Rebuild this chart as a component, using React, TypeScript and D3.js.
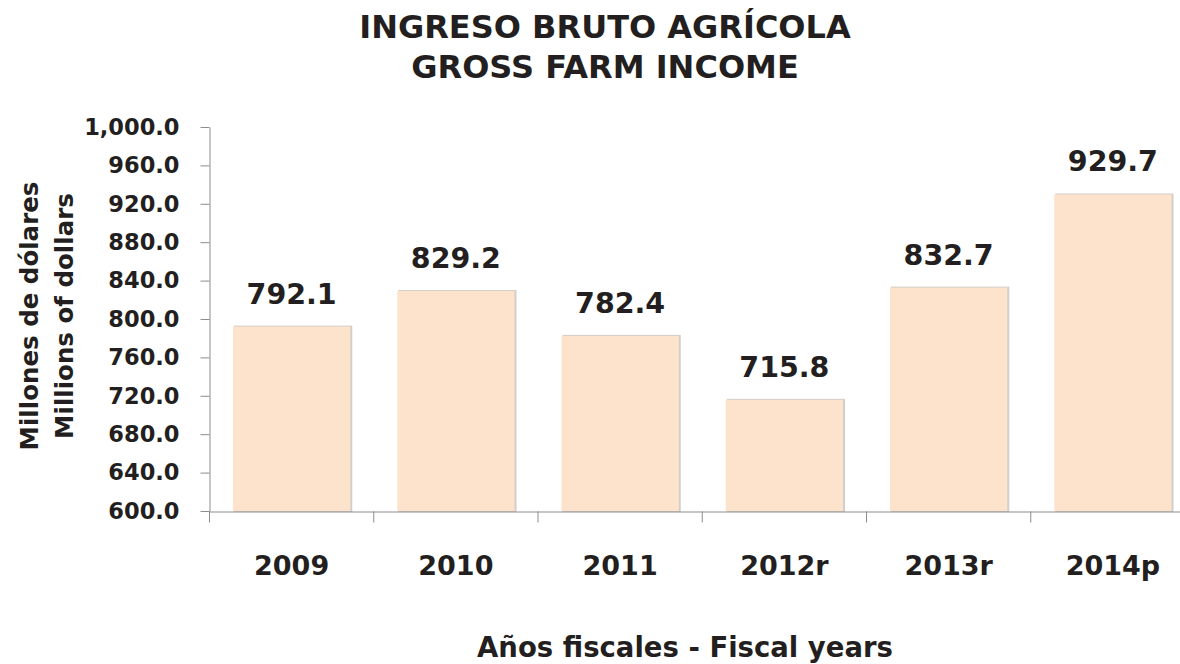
import React, {useEffect, useRef} from 'react';
import * as d3 from 'd3';

const years = ['2009', '2010', '2011', '2012r', '2013r', '2014p'];
const income = [792.1, 829.2, 782.4, 715.8, 832.7, 929.7];
const yTicks = [600, 640, 680, 720, 760, 800, 840, 880, 920, 960, 1000];

const FONT = '"DejaVu Sans", sans-serif';
const INK = '#231f20';

const App = () => {
    const ref = useRef<SVGSVGElement>(null);

    useEffect(() => {
        const svg = d3.select(ref.current);
        svg.selectAll('*').remove();

        const x = d3.scaleBand().domain(years).range([209.5, 1195]).paddingInner(0.286).paddingOuter(0.143);
        const y = d3.scaleLinear().domain([600, 1000]).range([511, 127]);

        // title
        svg.append('text').attr('x', 605).attr('y', 38).attr('text-anchor', 'middle')
            .attr('font-family', FONT).attr('font-weight', 'bold').attr('font-size', 32).attr('fill', INK)
            .text('INGRESO BRUTO AGRÍCOLA');
        svg.append('text').attr('x', 605).attr('y', 78).attr('text-anchor', 'middle')
            .attr('font-family', FONT).attr('font-weight', 'bold').attr('font-size', 32).attr('fill', INK)
            .text('GROSS FARM INCOME');

        // bars with a soft shadow
        const bars = svg.append('g');
        bars.selectAll('rect.shadow').data(income).enter().append('rect')
            .attr('class', 'shadow')
            .attr('x', (d, i) => x(years[i])! + 1)
            .attr('y', d => y(d) - 1)
            .attr('width', x.bandwidth() + 1)
            .attr('height', d => y(600) - y(d) + 2)
            .attr('fill', '#d3cec9');
        bars.selectAll('rect.bar').data(income).enter().append('rect')
            .attr('class', 'bar')
            .attr('x', (d, i) => x(years[i])!)
            .attr('y', d => y(d))
            .attr('width', x.bandwidth())
            .attr('height', d => y(600) - y(d))
            .attr('fill', '#fde3cb');

        // y axis
        const yAxis = svg.append('g').attr('transform', 'translate(209.5,0)')
            .call(d3.axisLeft(y).tickValues(yTicks).tickSize(9).tickPadding(21).tickSizeOuter(0)
                .tickFormat(d => d3.format(',.1f')(d as number)));
        yAxis.select('.domain').attr('stroke', '#8c8c8c');
        yAxis.selectAll('line').attr('stroke', '#8c8c8c');
        yAxis.selectAll('text').attr('font-family', FONT).attr('font-weight', 'bold')
            .attr('font-size', 22.5).attr('fill', INK);

        // x axis
        const xAxis = svg.append('g').attr('transform', 'translate(0,511.5)')
            .call(d3.axisBottom(x).tickSize(0).tickPadding(44));
        xAxis.select('.domain').attr('stroke', '#8c8c8c');
        xAxis.selectAll('text').attr('font-family', FONT).attr('font-weight', 'bold')
            .attr('font-size', 27).attr('fill', INK);
        const step = x.step();
        xAxis.selectAll('line.sep').data(d3.range(years.length + 1)).enter().append('line')
            .attr('class', 'sep')
            .attr('x1', i => 209.5 + i * step).attr('x2', i => 209.5 + i * step)
            .attr('y1', 0).attr('y2', 11).attr('stroke', '#8c8c8c');

        // value labels
        svg.append('g').selectAll('text').data(income).enter().append('text')
            .attr('x', (d, i) => x(years[i])! + x.bandwidth() / 2)
            .attr('y', d => y(d) - 23)
            .attr('text-anchor', 'middle')
            .attr('font-family', FONT).attr('font-weight', 'bold').attr('font-size', 28.5).attr('fill', INK)
            .text(d => d3.format('.1f')(d));

        // axis titles
        svg.append('text').attr('x', 685).attr('y', 657).attr('text-anchor', 'middle')
            .attr('font-family', FONT).attr('font-weight', 'bold').attr('font-size', 27.5).attr('fill', INK)
            .text('Años fiscales - Fiscal years');
        svg.append('text').attr('transform', 'translate(38,316) rotate(-90)').attr('text-anchor', 'middle')
            .attr('font-family', FONT).attr('font-weight', 'bold').attr('font-size', 24.5).attr('fill', INK)
            .text('Millones de dólares');
        svg.append('text').attr('transform', 'translate(73,316) rotate(-90)').attr('text-anchor', 'middle')
            .attr('font-family', FONT).attr('font-weight', 'bold').attr('font-size', 24.5).attr('fill', INK)
            .text('Millions of dollars');
    }, []);

    return (
        <svg ref={ref} width={1180} height={664}
             style={{position: 'absolute', left: 0, top: 0, background: '#fff'}}/>
    );
};

export default App;
